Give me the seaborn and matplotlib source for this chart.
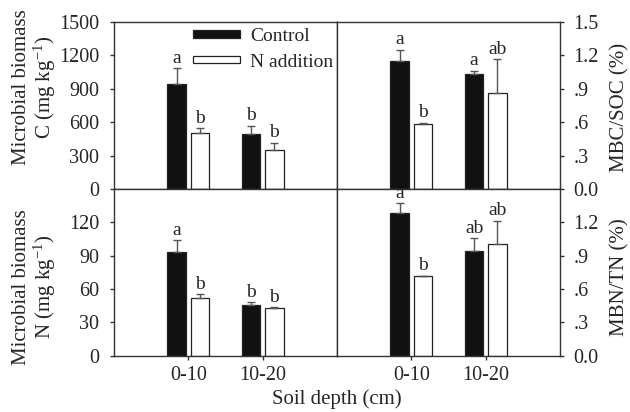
import matplotlib
matplotlib.use("Agg")
import matplotlib.pyplot as plt
from matplotlib.patches import Patch
from matplotlib.container import BarContainer
import seaborn as sns
import pandas as pd

# ---------------- data ----------------
depths = ["0-10", "10-20"]
treatments = ["Control", "N addition"]

mbc_control = [940, 490]
mbc_control_err = [145, 78]
mbc_n = [500, 352]
mbc_n_err = [45, 65]
mbc_letters_control = ["a", "b"]
mbc_letters_n = ["b", "b"]

mbcsoc_control = [1.15, 1.035]
mbcsoc_control_err = [0.10, 0.028]
mbcsoc_n = [0.58, 0.865]
mbcsoc_n_err = [0.015, 0.30]
mbcsoc_letters_control = ["a", "a"]
mbcsoc_letters_n = ["b", "ab"]

mbn_control = [93, 45.5]
mbn_control_err = [11, 2.5]
mbn_n = [52, 43]
mbn_n_err = [3.3, 0.6]
mbn_letters_control = ["a", "b"]
mbn_letters_n = ["b", "b"]

mbntn_control = [1.285, 0.945]
mbntn_control_err = [0.09, 0.11]
mbntn_n = [0.715, 1.005]
mbntn_n_err = [0.006, 0.21]
mbntn_letters_control = ["a", "ab"]
mbntn_letters_n = ["b", "ab"]

mbc_ticks = [0, 300, 600, 900, 1200, 1500]
mbc_ticklabels = ["0", "300", "600", "900", "1200", "1500"]
mbn_ticks = [0, 30, 60, 90, 120]
mbn_ticklabels = ["0", "30", "60", "90", "120"]
ratio_ticks_top = [0.0, 0.3, 0.6, 0.9, 1.2, 1.5]
ratio_ticklabels_top = ["0.0", ".3", ".6", ".9", "1.2", "1.5"]
ratio_ticks_bottom = [0.0, 0.3, 0.6, 0.9, 1.2]
ratio_ticklabels_bottom = ["0.0", ".3", ".6", ".9", "1.2"]

ylabel_mbc = "Microbial biomass\nC (mg kg$^{-1}$)"
ylabel_mbn = "Microbial biomass\nN (mg kg$^{-1}$)"
ylabel_mbcsoc = "MBC/SOC (%)"
ylabel_mbntn = "MBN/TN (%)"
xlabel = "Soil depth (cm)"

# ---------------- style ----------------
sns.set_style("ticks")
plt.rcParams["font.family"] = ["Liberation Serif", "DejaVu Serif"]
plt.rcParams["mathtext.fontset"] = "custom"
plt.rcParams["mathtext.rm"] = "Liberation Serif"
plt.rcParams["mathtext.it"] = "Liberation Serif:italic"

SPINE = "#333333"
ERR = "#555555"
TICK_FS = 14.5
LABEL_FS = 15
LET_FS = 14

fig = plt.figure(figsize=(6.3, 4.12), dpi=100)
W, H = 630, 412
x0, x1, x2 = 114, 337, 560
y0, y1, y2 = 22, 189, 355.7


def add_ax(xa, xb, ya, yb):
    return fig.add_axes([xa / W, 1 - yb / H, (xb - xa) / W, (yb - ya) / H])


ax_tl = add_ax(x0, x1, y0, y1)
ax_tr = add_ax(x1, x2, y0, y1)
ax_bl = add_ax(x0, x1, y1, y2)
ax_br = add_ax(x1, x2, y1, y2)


def panel(ax, ctrl, ctrl_err, nadd, nadd_err, let_c, let_n, ymax, ticks, ticklabels,
          right, bottom, ylabel, label_y):
    df = pd.DataFrame({
        "depth": depths * 2,
        "treatment": [treatments[0]] * 2 + [treatments[1]] * 2,
        "value": list(ctrl) + list(nadd),
    })
    sns.barplot(data=df, x="depth", y="value", hue="treatment", order=depths,
                hue_order=treatments, palette=["#111111", "white"], width=0.62,
                gap=0.19, legend=False, errorbar=None, ax=ax,
                edgecolor="#222222", linewidth=0.9)
    errs = [ctrl_err, nadd_err]
    lets = [let_c, let_n]
    bar_conts = [c for c in ax.containers if isinstance(c, BarContainer)]
    for i, cont in enumerate(bar_conts):
        xs = [p.get_x() + p.get_width() / 2 for p in cont.patches]
        hs = [p.get_height() for p in cont.patches]
        ax.errorbar(xs, hs, yerr=[[0] * len(hs), errs[i]], fmt="none",
                    ecolor=ERR, elinewidth=1.0, capsize=3, capthick=1.0, zorder=1)
        for x, h, e, l in zip(xs, hs, errs[i], lets[i]):
            ax.annotate(l, (x, h + e), xytext=(0, 1.0), textcoords="offset points",
                        ha="center", va="bottom", fontsize=LET_FS)
    ax.set_xlim(-1, 2)
    ax.set_ylim(0, ymax)
    ax.set_xlabel("")
    ax.set_ylabel("")
    for s in ax.spines.values():
        s.set_visible(True)
        s.set_color(SPINE)
        s.set_linewidth(1.0)
    ax.set_yticks(ticks)
    ax.set_yticklabels(ticklabels)
    if right:
        ax.yaxis.tick_right()
        ax.text(1.27, label_y, ylabel, transform=ax.transAxes, rotation=90,
                ha="center", va="center", fontsize=LABEL_FS)
    else:
        ax.text(-0.355, label_y, ylabel, transform=ax.transAxes, rotation=90,
                ha="center", va="center", fontsize=LABEL_FS, linespacing=1.05)
    ax.tick_params(axis="y", direction="out", length=3, width=1, color=SPINE,
                   labelsize=TICK_FS, pad=7.5 if not right else 6.5)
    if bottom:
        ax.tick_params(axis="x", direction="out", length=3, width=1, color=SPINE,
                       labelsize=TICK_FS, pad=4.5)
    else:
        ax.tick_params(axis="x", bottom=False, labelbottom=False)


panel(ax_tl, mbc_control, mbc_control_err, mbc_n, mbc_n_err, mbc_letters_control,
      mbc_letters_n, 1500, mbc_ticks, mbc_ticklabels, False, False, ylabel_mbc, 0.61)
panel(ax_tr, mbcsoc_control, mbcsoc_control_err, mbcsoc_n, mbcsoc_n_err,
      mbcsoc_letters_control, mbcsoc_letters_n, 1.5, ratio_ticks_top,
      ratio_ticklabels_top, True, False, ylabel_mbcsoc, 0.49)
panel(ax_bl, mbn_control, mbn_control_err, mbn_n, mbn_n_err, mbn_letters_control,
      mbn_letters_n, 150, mbn_ticks, mbn_ticklabels, False, True, ylabel_mbn, 0.41)
panel(ax_br, mbntn_control, mbntn_control_err, mbntn_n, mbntn_n_err,
      mbntn_letters_control, mbntn_letters_n, 1.5, ratio_ticks_bottom,
      ratio_ticklabels_bottom, True, True, ylabel_mbntn, 0.47)

handles = [Patch(facecolor="#111111", edgecolor="#222222", linewidth=0.9),
           Patch(facecolor="white", edgecolor="#222222", linewidth=0.9)]
ax_tl.legend(handles, treatments, loc="upper left",
             bbox_to_anchor=((193 - x0) / (x1 - x0), 1 - (28 - y0) / (y1 - y0)),
             frameon=False, fontsize=14, borderpad=0, borderaxespad=0,
             handlelength=2.4, handleheight=0.22, handletextpad=0.55,
             labelspacing=0.45)

fig.text(x1 / W, 1 - 399 / H, xlabel, ha="center", va="center", fontsize=LABEL_FS)

fig.savefig("out.png", dpi=100)
